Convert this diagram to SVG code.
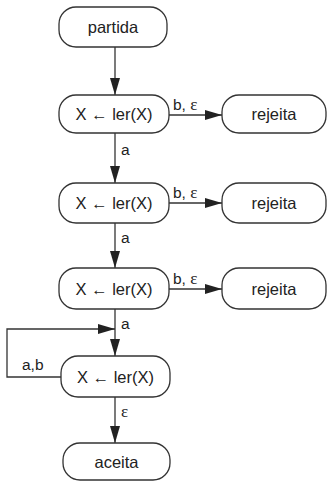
<svg xmlns="http://www.w3.org/2000/svg" width="327" height="482" viewBox="0 0 327 482">
<defs>
<style>
.box{fill:#fff;stroke:#333;stroke-width:1.3}
.t{font-family:"Liberation Sans",Arial,sans-serif;font-size:16.5px;fill:#222;text-anchor:middle;dominant-baseline:central}
.l{font-family:"Liberation Sans",Arial,sans-serif;font-size:15.5px;fill:#222}
.e{font-family:"Liberation Serif",serif;font-size:17px}
.ln{fill:none;stroke:#333;stroke-width:1.3}
</style>
<marker id="ah" viewBox="0 0 17 10" refX="17" refY="5" markerWidth="17" markerHeight="10" markerUnits="userSpaceOnUse" orient="auto">
<path d="M0,0 L17,5 L0,10 Z" fill="#222"/>
</marker>
</defs>
<rect width="327" height="482" fill="#fff"/>
<g id="connectors">
<line class="ln" x1="115" y1="47" x2="115" y2="95" marker-end="url(#ah)"/>
<line class="ln" x1="169" y1="115" x2="222" y2="115" marker-end="url(#ah)"/>
<line class="ln" x1="115" y1="133" x2="115" y2="183" marker-end="url(#ah)"/>
<line class="ln" x1="169" y1="203" x2="222" y2="203" marker-end="url(#ah)"/>
<line class="ln" x1="115" y1="223" x2="115" y2="268" marker-end="url(#ah)"/>
<line class="ln" x1="169" y1="289" x2="222" y2="289" marker-end="url(#ah)"/>
<line class="ln" x1="115" y1="309" x2="115" y2="356" marker-end="url(#ah)"/>
<polyline class="ln" points="61,377 7,377 7,329 115,329" marker-end="url(#ah)"/>
<line class="ln" x1="115" y1="397" x2="115" y2="443" marker-end="url(#ah)"/>
<text class="l" x="173" y="110">b, <tspan class="e">ε</tspan></text>
<text class="l" x="173" y="198">b, <tspan class="e">ε</tspan></text>
<text class="l" x="173" y="284">b, <tspan class="e">ε</tspan></text>
<text class="l" x="121" y="155">a</text>
<text class="l" x="121" y="243">a</text>
<text class="l" x="121" y="329">a</text>
<text class="l" x="22" y="370">a,b</text>
<text class="l e" x="121" y="417">ε</text>
</g>
<g id="partida"><rect class="box" x="59" y="7" width="108" height="40" rx="17"/><text class="t" x="113" y="27">partida</text></g>
<g id="n1"><rect class="box" x="59" y="95" width="110" height="38" rx="17"/><text class="t" x="114" y="114">X ← ler(X)</text></g>
<g id="rejeita1"><rect class="box" x="222" y="95" width="104" height="38" rx="17"/><text class="t" x="274" y="114">rejeita</text></g>
<g id="n2"><rect class="box" x="59" y="183" width="110" height="40" rx="17"/><text class="t" x="114" y="203">X ← ler(X)</text></g>
<g id="rejeita2"><rect class="box" x="222" y="183" width="104" height="40" rx="17"/><text class="t" x="274" y="203">rejeita</text></g>
<g id="n3"><rect class="box" x="59" y="268" width="110" height="41" rx="17"/><text class="t" x="114" y="288.5">X ← ler(X)</text></g>
<g id="rejeita3"><rect class="box" x="222" y="268" width="104" height="41" rx="17"/><text class="t" x="274" y="288.5">rejeita</text></g>
<g id="n4"><rect class="box" x="61" y="356" width="109" height="41" rx="17"/><text class="t" x="115.5" y="376.5">X ← ler(X)</text></g>
<g id="aceita"><rect class="box" x="63" y="443" width="107" height="37" rx="17"/><text class="t" x="116.5" y="461.5">aceita</text></g>
</svg>
